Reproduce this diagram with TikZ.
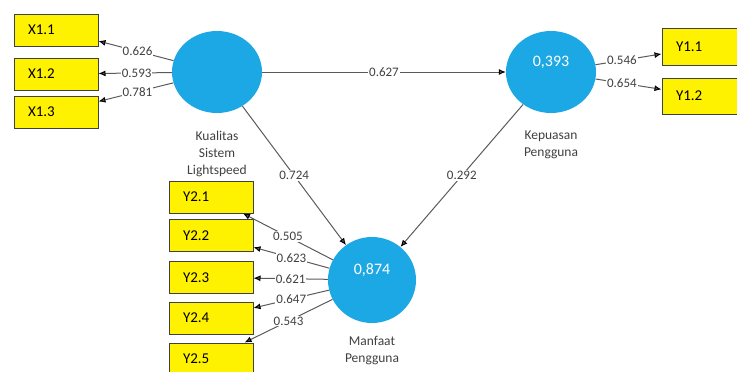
\documentclass[tikz,border=0pt]{standalone}
\usepackage{fontspec}
\setmainfont{Carlito}
\usetikzlibrary{shapes.geometric,arrows.meta}
\definecolor{lvblue}{RGB}{28,168,228}
\definecolor{lnkgray}{RGB}{90,90,90}
\begin{document}
\begin{tikzpicture}[x=1pt,y=-1pt,
    ind/.style={rectangle,draw=black!75,fill=yellow,line width=1pt,minimum height=32pt,
      text width=56pt,inner xsep=14pt,align=left,font=\fontsize{15}{17}\selectfont},
    lv/.style={ellipse,fill=lvblue,minimum width=90pt,minimum height=82pt,inner sep=0pt},
    rsq/.style={text=white,font=\fontsize{16}{18}\selectfont},
    lvname/.style={align=center,text=black!75,font=\fontsize{13.5}{17}\selectfont},
    coef/.style={fill=white,inner sep=1pt,text=black!75,font=\fontsize{13}{14}\selectfont}]
  \useasboundingbox (0,0) rectangle (737,372);
  % latent variables
  \node[lv] (KS) at (217,72) {};
  \node[lv] (KP) at (551,72) {};
  \node[lv,minimum width=88pt,minimum height=86pt] (MP) at (372,280) {};
  \node[rsq] (KPv) at (551,62) {0,393};
  \node[rsq] (MPv) at (372,270) {0,874};
  \node[lvname] (KSn) at (217,154) {Kualitas\\Sistem\\Lightspeed};
  \node[lvname] (KPn) at (551,145) {Kepuasan\\Pengguna};
  \node[lvname] (MPn) at (372,351) {Manfaat\\Pengguna};
  % indicators
  \node[ind] (X11) at (56,30)  {X1.1};
  \node[ind] (X12) at (56,74)  {X1.2};
  \node[ind] (X13) at (56,112) {X1.3};
  \node[ind,minimum height=37pt] (Y11) at (704,47) {Y1.1};
  \node[ind,minimum height=36pt] (Y12) at (704,96) {Y1.2};
  \node[ind] (Y21) at (211,197)   {Y2.1};
  \node[ind] (Y22) at (211,235.5) {Y2.2};
  \node[ind] (Y23) at (211,277.5) {Y2.3};
  \node[ind] (Y24) at (211,318)   {Y2.4};
  \node[ind] (Y25) at (211,359)   {Y2.5};
  \draw[-{Latex[length=7pt,width=6pt,color=black]},lnkgray,line width=1pt]
  (KS) edge node[coef,pos=0.48] {0.626} (X11)
       edge node[coef,pos=0.48] {0.593} (X12)
       edge node[coef,pos=0.48] {0.781} (X13)
       edge node[coef] {0.627} (KP)
       edge node[coef] {0.724} (MP)
  (KP) edge node[coef] {0.292} (MP)
       edge node[coef,pos=0.4] {0.546} (Y11)
       edge node[coef,pos=0.4] {0.654} (Y12)
  (MP) edge node[coef] {0.505} (Y21)
       edge node[coef] {0.623} (Y22)
       edge node[coef] {0.621} (Y23)
       edge node[coef] {0.647} (Y24)
       edge node[coef] {0.543} (Y25);
\end{tikzpicture}
\end{document}
